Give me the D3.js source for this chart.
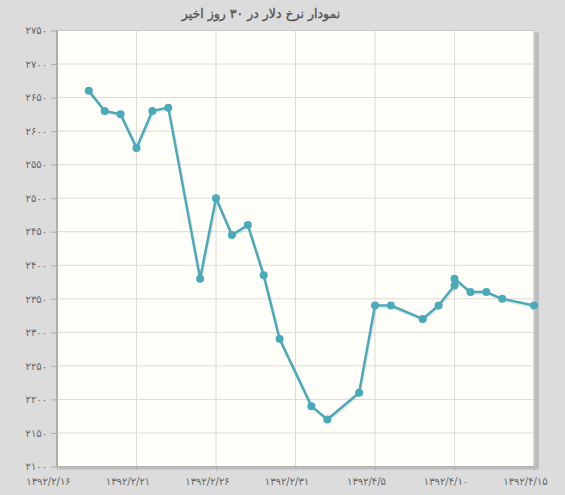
<!DOCTYPE html>
<html><head><meta charset="utf-8">
<script src="https://cdn.jsdelivr.net/npm/d3@7"></script>
<style>
html,body{margin:0;padding:0;background:#dcdcdc;}
svg{display:block;}
</style></head>
<body>
<svg id="chart" width="565" height="495"></svg>
<script>
const title = "نمودار نرخ دلار در ۳۰ روز اخیر";
const days = [2,3,4,5,6,7,9,10,11,12,13,14,16,17,19,20,21,23,24,25,25,26,27,28,30];
const rates = [2660,2630,2625,2575,2630,2635,2380,2500,2445,2460,2385,2290,2190,2170,2210,2340,2340,2320,2340,2370,2380,2360,2360,2350,2340];
const xTickDays = [0,5,10,15,20,25,30];
const xTickLabels = ["۱۳۹۲/۲/۱۶","۱۳۹۲/۲/۲۱","۱۳۹۲/۲/۲۶","۱۳۹۲/۲/۳۱","۱۳۹۲/۴/۵","۱۳۹۲/۴/۱۰","۱۳۹۲/۴/۱۵"];
const yTicks = [2100,2150,2200,2250,2300,2350,2400,2450,2500,2550,2600,2650,2700,2750];

const fa = n => String(n).replace(/[0-9]/g, d => "۰۱۲۳۴۵۶۷۸۹"[+d]);

const L = 57, R = 534, T = 30.5, B = 466.5;
const svg = d3.select("#chart");
const x = d3.scaleLinear().domain([0,30]).range([L,R]);
const y = d3.scaleLinear().domain([2100,2750]).range([B,T]);

svg.append("rect").attr("width",565).attr("height",495).attr("fill","#dcdcdc");

// shadow
svg.append("rect").attr("x",L+2).attr("y",T+2).attr("width",R-L+3).attr("height",B-T+1).attr("fill","#a8a8a8").attr("opacity",0.6);
svg.append("rect").attr("x",L).attr("y",T).attr("width",R-L).attr("height",B-T).attr("fill","#fffef9");

// gridlines
svg.append("g").selectAll("line").data(yTicks).join("line")
  .attr("x1",L).attr("x2",R).attr("y1",d=>y(d)).attr("y2",d=>y(d))
  .attr("stroke","#dcdcd6").attr("stroke-width",1);
svg.append("g").selectAll("line").data(xTickDays).join("line")
  .attr("x1",d=>x(d)).attr("x2",d=>x(d)).attr("y1",T).attr("y2",B)
  .attr("stroke","#dcdcd6").attr("stroke-width",1);

// border
svg.append("rect").attr("x",L).attr("y",T).attr("width",R-L).attr("height",B-T)
  .attr("fill","none").attr("stroke","#c8c8c8");
svg.append("line").attr("x1",L).attr("x2",L).attr("y1",T).attr("y2",B).attr("stroke","#a0a0a0").attr("stroke-width",1.5);
svg.append("line").attr("x1",L).attr("x2",R).attr("y1",B).attr("y2",B).attr("stroke","#b0b0b0").attr("stroke-width",1);

// y axis
const yAxis = d3.axisLeft(y).tickValues(yTicks).tickSize(6).tickPadding(4).tickFormat(fa);
const gy = svg.append("g").attr("transform",`translate(${L},0)`).call(yAxis);
gy.select(".domain").remove();
gy.selectAll(".tick line").attr("stroke","#b0b0b0");
gy.selectAll(".tick text").attr("fill","#666").attr("font-family","DejaVu Sans").attr("font-size",10);

// x axis
const xAxis = d3.axisBottom(x).tickValues(xTickDays).tickSize(4).tickPadding(7)
  .tickFormat((d,i)=>xTickLabels[i]);
const gx = svg.append("g").attr("transform",`translate(0,${B})`).call(xAxis);
gx.select(".domain").remove();
gx.selectAll(".tick line").attr("stroke","#b0b0b0");
gx.selectAll(".tick text").attr("fill","#666").attr("font-family","DejaVu Sans").attr("font-size",10)
  .attr("dx",-9);

// line
const pts = days.map((d,i)=>[d,rates[i]]);
const line = d3.line().x(d=>x(d[0])).y(d=>y(d[1]));
svg.append("path").datum(pts).attr("d",line).attr("fill","none")
  .attr("stroke","#000").attr("stroke-opacity",0.08).attr("stroke-width",3).attr("transform","translate(1,1.5)");
svg.append("path").datum(pts).attr("d",line).attr("fill","none")
  .attr("stroke","#4aaaba").attr("stroke-width",2.5).attr("stroke-linejoin","round");
svg.append("g").selectAll("circle").data(pts).join("circle")
  .attr("cx",d=>x(d[0])).attr("cy",d=>y(d[1])).attr("r",4).attr("fill","#4aaaba");

// title
svg.append("text").attr("x",261).attr("y",18).attr("text-anchor","middle").attr("direction","rtl")
  .attr("font-family","DejaVu Sans").attr("font-size",12.5).attr("fill","#555")
  .attr("stroke","#555").attr("stroke-width",0.35).text(title);
</script>
</body></html>
